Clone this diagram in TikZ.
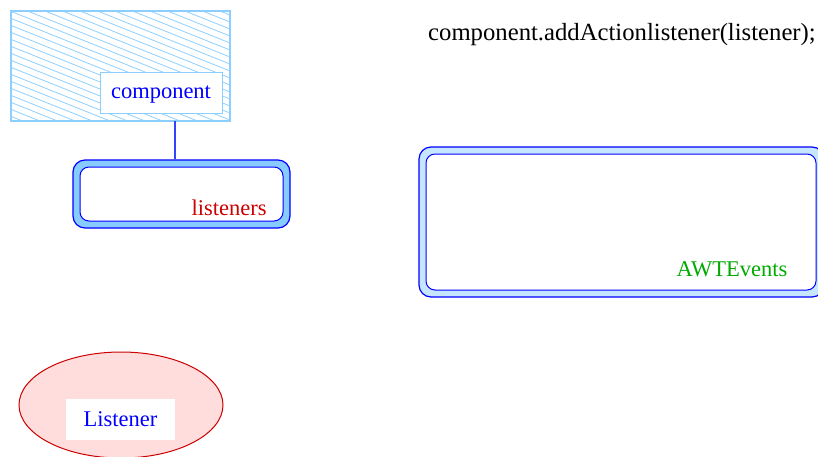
\documentclass[tikz,border=0pt]{standalone}
\usepackage{fontspec}
\setmainfont{Liberation Serif}
\usetikzlibrary{shapes.geometric}
\definecolor{skyline}{HTML}{8CCFFF}
\definecolor{skyfill}{HTML}{88CCFF}
\definecolor{palesky}{HTML}{C6E6FF}
\definecolor{pinkfill}{HTML}{FFDDDD}
\definecolor{darkred}{HTML}{CC0000}
\definecolor{evgreen}{HTML}{00AA00}
\definecolor{linkblue}{HTML}{3344FF}
\tikzset{
  lbl/.style={font=\fontsize{22.5}{27}\selectfont},
  labelbox/.style={lbl, fill=white, inner sep=0pt, text depth=0pt},
  outerbox/.style={draw=blue, line width=1.2pt, rounded corners=12pt, inner sep=0pt},
  innerbox/.style={draw=blue, line width=1pt, fill=white, rounded corners=9pt, inner sep=0pt},
  hatch/.style={draw=skyline, line width=0.8pt},
  link/.style={draw=linkblue, line width=1.2pt}
}
\begin{document}
\begin{tikzpicture}[x=1pt,y=-1pt]
    \useasboundingbox (0,0) rectangle (818,456);
    % the component
    \node[inner sep=0pt, minimum width=219pt, minimum height=110pt] (comp) at (120.5,66) {};
    \begin{scope}
        \clip (comp.north west) rectangle (comp.south east);
        \foreach \k in {-16,...,18}
            \draw[hatch] (0,7*\k) -- (300,7*\k+120);
    \end{scope}
    \draw[draw=skyline, line width=2pt] (comp.north west) rectangle (comp.south east);
    \node[labelbox, draw=skyline, line width=0.8pt, text=blue,
          minimum width=122pt, minimum height=41pt] (complabel) at (161,92.5) {component};
    % its listener list
    \node[outerbox, fill=skyfill, minimum width=217pt, minimum height=68pt] (lstouter) at (181.5,194) {};
    \node[innerbox, minimum width=203pt, minimum height=54pt] (lstinner) at (181.5,194) {};
    \node[lbl, text=darkred] (lsttext) at (229,208) {listeners};
    \draw[link] ([xshift=54.5pt]comp.south) -- ([xshift=-6.5pt]lstouter.north);
    % the event queue
    \node[outerbox, fill=palesky, minimum width=405pt, minimum height=150pt] (evouter) at (621.5,222) {};
    \node[innerbox, minimum width=390pt, minimum height=136pt] (evinner) at (621,222) {};
    \node[lbl, text=evgreen] (evtext) at (732,269) {AWTEvents};
    % the listener object
    \node[ellipse, draw=darkred, line width=1pt, fill=pinkfill, inner sep=0pt,
          minimum width=204pt, minimum height=106pt] (lstobj) at (121,405) {};
    \node[labelbox, text=blue, minimum width=109pt, minimum height=41pt] (lstlabel) at (120.5,419.5) {Listener};
    % the call
    \node[anchor=base west, inner sep=0pt, font=\fontsize{24.7}{29}\selectfont] (call) at (428,40)
        {component.addActionlistener(listener);};
\end{tikzpicture}
\end{document}
